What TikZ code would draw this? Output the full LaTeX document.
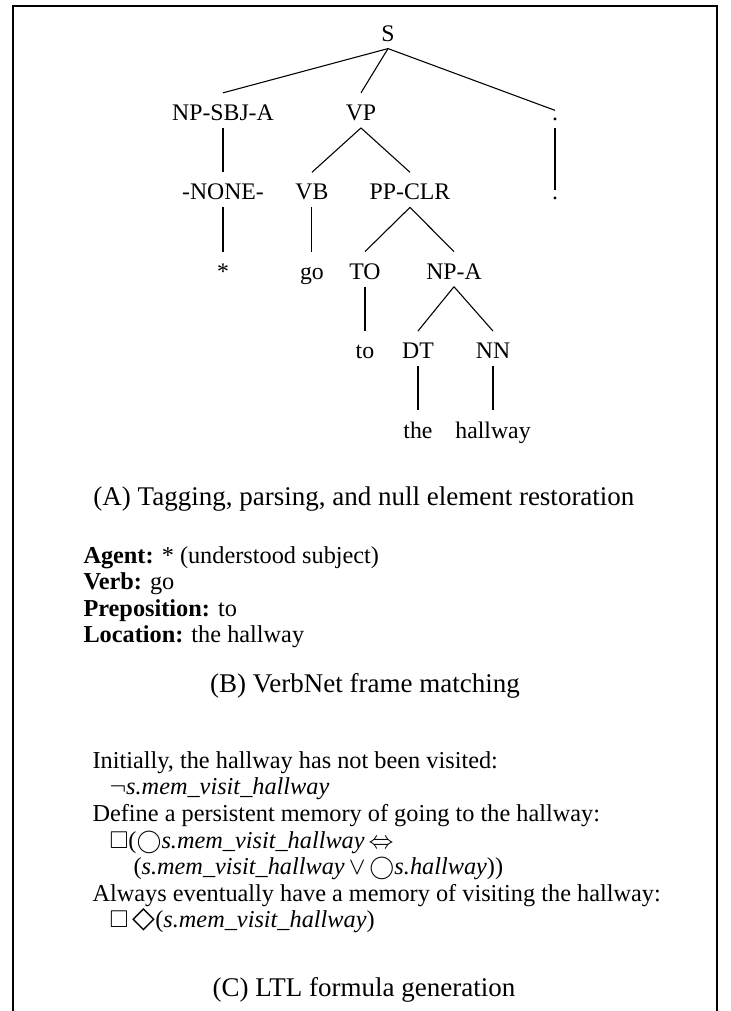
\documentclass[tikz,border=0pt]{standalone}
\usepackage{amsmath, amssymb}
\usepackage{fontspec}
\setmainfont{Liberation Serif}
\newfontfamily\symfont{DejaVu Sans}
\usepackage{tikz}

\begin{document}
\begin{tikzpicture}[line width=0.4pt,
  tag/.style={anchor=base, text height=7.4pt, text depth=0pt, inner sep=2.6pt,
              font=\fontsize{8.8}{10}\selectfont},
  punct/.style={anchor=base, inner sep=2.6pt, font=\fontsize{8.8}{10}\selectfont},
  caption/.style={anchor=base, inner sep=0pt, font=\fontsize{10}{12}\selectfont},
  body/.style={anchor=base west, inner sep=0pt, font=\fontsize{9}{10}\selectfont}]

  \useasboundingbox (0,0) rectangle (9.503,-13.161);
  \draw (0.169,-13.161) -- (0.169,-0.078) -- (9.334,-0.078) -- (9.334,-13.161);

  % parse tree
  \node[tag] (s) at (5.051,-0.534) {S};
  \node[tag] (npsbj) at (2.903,-1.567) {NP-SBJ-A};
  \node[tag] (vp) at (4.699,-1.567) {VP};
  \node[punct] (dotA) at (7.225,-1.567) {.};
  \node[tag] (none) at (2.903,-2.601) {-NONE-};
  \node[tag] (vb) at (4.061,-2.601) {VB};
  \node[tag] (ppclr) at (5.337,-2.601) {PP-CLR};
  \node[punct] (dotB) at (7.225,-2.601) {.};
  \node[tag] (star) at (2.903,-3.634) {*};
  \node[tag] (go) at (4.061,-3.634) {go};
  \node[tag] (totag) at (4.751,-3.634) {TO};
  \node[tag] (npa) at (5.910,-3.634) {NP-A};
  \node[tag] (toword) at (4.751,-4.668) {to};
  \node[tag] (dt) at (5.441,-4.668) {DT};
  \node[tag] (nn) at (6.418,-4.668) {NN};
  \node[tag] (the) at (5.441,-5.702) {the};
  \node[tag] (hallway) at (6.418,-5.702) {hallway};

  \foreach \p/\c in {s/npsbj, s/vp, s/dotA, npsbj/none, vp/vb, vp/ppclr,
                     dotA/dotB, none/star, vb/go, ppclr/totag, ppclr/npa,
                     totag/toword, npa/dt, npa/nn, dt/the, nn/hallway}
     \draw (\p.south) -- (\c.north);

  \node[caption] (capA) at (4.738,-6.574)
       {(A) Tagging, parsing, and null element restoration};

  % frame roles
  \node[body] (agent) at (1.080,-7.329) {\textbf{Agent:} * (understood subject)};
  \node[body] (verb) at (1.080,-7.676) {\textbf{Verb:} go};
  \node[body] (prep) at (1.080,-8.024) {\textbf{Preposition:} to};
  \node[body] (loc) at (1.080,-8.370) {\textbf{Location:} the hallway};
  \node[caption] (capB) at (4.751,-9.021) {(B) VerbNet frame matching};

  % formulas
  \node[body] (ltl1) at (1.198,-9.998) {Initially, the hallway has not been visited:};
  \node[body] (ltl2) at (1.419,-10.345) {$\neg$\textit{s.mem\_visit\_hallway}};
  \node[body] (ltl3) at (1.198,-10.692) {Define a persistent memory of going to the hallway:};
  \node[body] (ltl4) at (1.419,-11.039)
       {$\Box$($\bigcirc$\textit{s.mem\_visit\_hallway}\,$\Leftrightarrow$};
  \node[body] (ltl5) at (1.731,-11.386)
       {(\textit{s.mem\_visit\_hallway}\,$\vee$\,$\bigcirc$\textit{s.hallway}))};
  \node[body] (ltl6) at (1.198,-11.733) {Always eventually have a memory of visiting the hallway:};
  \node[body] (ltl7) at (1.419,-12.080)
       {$\Box$\,{\symfont\fontsize{11}{10}\selectfont ◇}(\textit{s.mem\_visit\_hallway})};
  \node[caption] (capC) at (4.738,-12.978) {(C) LTL formula generation};
\end{tikzpicture}
\end{document}
